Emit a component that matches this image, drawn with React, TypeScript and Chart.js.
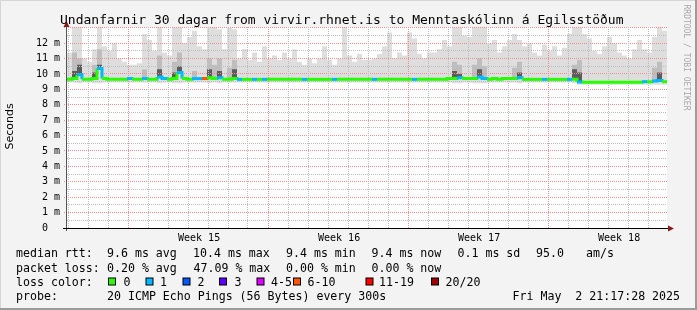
import React, { useEffect, useRef } from 'react';
import { Chart, registerables } from 'chart.js';
Chart.register(...registerables);

const W = 697;
const H = 310;
const HOURS = 720;
const STEP = 6;
const FIRST_DAY = 1.2;
const WEEK_LABEL_OFFSET = 85.3;

const smokeTop = [
  11.4, 13.2, 13.2, 11.0, 10.8, 11.6, 13.2, 11.8, 11.5, 12.0, 11.0, 10.8,
  10.6, 10.6, 10.7, 12.6, 12.2, 11.5, 13.2, 11.4, 11.2, 13.2, 13.2, 12.0,
  12.4, 12.8, 11.8, 11.6, 13.2, 13.2, 12.9, 11.6, 13.0, 12.9, 11.0, 11.6,
  10.9, 11.4, 10.8, 11.8, 11.0, 11.2, 10.9, 11.4, 11.0, 11.6, 10.8, 10.6,
  11.0, 10.7, 11.0, 11.8, 10.9, 10.6, 11.0, 13.1, 11.2, 10.8, 11.3, 10.9,
  10.9, 11.0, 11.3, 11.8, 12.7, 11.0, 11.4, 11.2, 12.7, 12.3, 11.3, 11.0,
  11.4, 11.4, 11.6, 12.2, 11.8, 13.2, 13.2, 12.5, 12.4, 13.2, 13.2, 13.2,
  12.0, 12.2, 11.4, 11.8, 12.2, 12.6, 12.2, 11.8, 12.0, 11.4, 11.2, 11.9,
  11.5, 11.8, 11.2, 11.7, 12.6, 13.2, 13.2, 12.6, 12.3, 11.5, 11.3, 11.8,
  12.4, 12.0, 11.4, 11.2, 11.0, 11.6, 12.2, 11.6, 11.4, 12.4, 13.2, 12.8,
];

const smokeLow = [
  9.45, 9.45, 9.4, 9.45, 9.45, 9.4, 9.4, 9.45, 9.45, 9.45, 9.45, 9.45,
  9.45, 9.45, 9.45, 9.45, 9.45, 9.45, 9.4, 9.45, 9.45, 9.4, 9.4, 9.45,
  9.45, 9.45, 9.45, 9.45, 9.4, 9.45, 9.4, 9.45, 9.45, 9.45, 9.45, 9.45,
  9.45, 9.45, 9.45, 9.45, 9.45, 9.45, 9.45, 9.45, 9.45, 9.45, 9.45, 9.45,
  9.45, 9.45, 9.45, 9.45, 9.45, 9.45, 9.45, 9.45, 9.45, 9.45, 9.45, 9.45,
  9.45, 9.45, 9.45, 9.45, 9.45, 9.45, 9.45, 9.45, 9.45, 9.45, 9.45, 9.45,
  9.45, 9.45, 9.45, 9.45, 9.45, 9.4, 9.4, 9.45, 9.45, 9.4, 9.4, 9.4,
  9.45, 9.45, 9.45, 9.45, 9.45, 9.45, 9.4, 9.45, 9.45, 9.45, 9.45, 9.45,
  9.45, 9.45, 9.45, 9.45, 9.45, 9.4, 9.3, 9.3, 9.3, 9.3, 9.3, 9.3,
  9.3, 9.3, 9.3, 9.3, 9.3, 9.3, 9.3, 9.3, 9.3, 9.3, 9.3, 9.3,
];

const smokeMid = [
  9.65, 11.4, 11.0, 9.65, 9.65, 10.6, 11.6, 9.7, 9.65, 9.65, 9.65, 9.65,
  9.7, 9.65, 9.65, 10.3, 9.65, 9.65, 11.2, 9.7, 9.65, 10.8, 11.4, 9.7,
  9.65, 10.2, 9.7, 9.7, 11.0, 10.6, 11.0, 9.65, 10.4, 10.9, 9.65, 9.65,
  9.65, 9.65, 9.65, 9.65, 9.65, 9.65, 9.65, 9.65, 9.65, 9.65, 9.65, 9.65,
  9.65, 9.65, 9.65, 9.65, 9.65, 9.65, 9.65, 9.65, 9.65, 9.65, 9.65, 9.65,
  9.65, 9.65, 9.65, 9.65, 9.65, 9.65, 9.65, 9.65, 9.65, 9.65, 9.65, 9.65,
  9.65, 9.65, 9.65, 9.65, 9.7, 10.8, 10.6, 9.7, 9.7, 10.6, 11.0, 10.5,
  9.65, 9.7, 9.65, 9.7, 9.7, 10.4, 10.8, 9.65, 9.65, 9.65, 9.65, 9.65,
  9.65, 9.65, 9.65, 9.65, 9.65, 10.6, 10.9, 9.47, 9.47, 9.47, 9.47, 9.47,
  9.47, 9.47, 9.47, 9.47, 9.47, 9.47, 9.47, 9.5, 9.5, 10.4, 10.8, 9.5,
];

const smokeDark = [
  9.65, 10.2, 10.6, 9.65, 9.65, 10.1, 10.6, 9.7, 9.65, 9.65, 9.65, 9.65,
  9.7, 9.65, 9.65, 9.7, 9.65, 9.65, 10.3, 9.7, 9.65, 10.1, 10.5, 9.7,
  9.65, 9.7, 9.7, 9.7, 10.3, 9.7, 10.2, 9.65, 9.65, 10.3, 9.65, 9.65,
  9.65, 9.65, 9.65, 9.65, 9.65, 9.65, 9.65, 9.65, 9.65, 9.65, 9.65, 9.65,
  9.65, 9.65, 9.65, 9.65, 9.65, 9.65, 9.65, 9.65, 9.65, 9.65, 9.65, 9.65,
  9.65, 9.65, 9.65, 9.65, 9.65, 9.65, 9.65, 9.65, 9.65, 9.65, 9.65, 9.65,
  9.65, 9.65, 9.65, 9.65, 9.7, 10.2, 10.0, 9.7, 9.7, 9.7, 10.3, 9.7,
  9.65, 9.7, 9.65, 9.7, 9.7, 9.7, 10.1, 9.65, 9.65, 9.65, 9.65, 9.65,
  9.65, 9.65, 9.65, 9.65, 9.65, 10.3, 10.1, 9.47, 9.47, 9.47, 9.47, 9.47,
  9.47, 9.47, 9.47, 9.47, 9.47, 9.47, 9.47, 9.5, 9.5, 9.55, 10.1, 9.5,
];

const medianRtt = [
  9.65, 9.7, 9.95, 9.65, 9.65, 9.7, 10.35, 9.7, 9.65, 9.65, 9.65, 9.65,
  9.7, 9.65, 9.65, 9.7, 9.65, 9.65, 9.8, 9.7, 9.65, 9.7, 10.1, 9.7,
  9.65, 9.7, 9.7, 9.7, 9.75, 9.7, 9.75, 9.65, 9.65, 9.7, 9.65, 9.65,
  9.65, 9.65, 9.65, 9.65, 9.65, 9.65, 9.65, 9.65, 9.65, 9.65, 9.65, 9.65,
  9.65, 9.65, 9.65, 9.65, 9.65, 9.65, 9.65, 9.65, 9.65, 9.65, 9.65, 9.65,
  9.65, 9.65, 9.65, 9.65, 9.65, 9.65, 9.65, 9.65, 9.65, 9.65, 9.65, 9.65,
  9.65, 9.65, 9.65, 9.65, 9.7, 9.7, 9.75, 9.7, 9.7, 9.7, 9.8, 9.7,
  9.65, 9.7, 9.65, 9.7, 9.7, 9.7, 9.75, 9.65, 9.65, 9.65, 9.65, 9.65,
  9.65, 9.65, 9.65, 9.65, 9.65, 9.65, 9.48, 9.47, 9.47, 9.47, 9.47, 9.47,
  9.47, 9.47, 9.47, 9.47, 9.47, 9.47, 9.47, 9.5, 9.5, 9.55, 9.58, 9.5,
];

const lossIndex = [
  0, 0, 1, 0, 0, 0, 1, 0, 0, 0, 0, 0,
  1, 0, 0, 1, 0, 0, 1, 1, 0, 0, 1, 0,
  0, 1, 1, 5, 0, 0, 1, 0, 0, 0, 1, 0,
  0, 1, 0, 1, 0, 0, 0, 0, 0, 0, 0, 1,
  0, 0, 0, 0, 0, 1, 0, 0, 0, 0, 0, 0,
  0, 1, 0, 0, 0, 0, 0, 0, 0, 1, 0, 0,
  0, 0, 0, 0, 0, 0, 1, 0, 0, 0, 1, 1,
  0, 0, 0, 0, 0, 0, 1, 0, 0, 0, 0, 1,
  0, 0, 0, 0, 1, 0, 1, 0, 0, 0, 0, 0,
  0, 0, 0, 0, 0, 0, 0, 1, 0, 1, 1, 0,
];

const lossColors = ['#26ff00', '#00b8ff', '#0059ff', '#5e00ff', '#dd00ff', '#ff5500', '#ff0000', '#a10000'];
const lossLabels = ['0', '1', '2', '3', '4-5', '6-10', '11-19', '20/20'];
const weekLabels = ['Week 15', 'Week 16', 'Week 17', 'Week 18'];
const yTickLabels = ['0  ', '1 m', '2 m', '3 m', '4 m', '5 m', '6 m', '7 m', '8 m', '9 m', '10 m', '11 m', '12 m'];

const TITLE = 'Undanfarnir 30 dagar from virvir.rhnet.is to Menntaskólinn á Egilsstöðum';
const rttLine = ['median rtt:', '9.6 ms avg', '10.4 ms max', '9.4 ms min', '9.4 ms now', '0.1 ms sd', '95.0', 'am/s'];
const lossLine = ['packet loss:', '0.20 % avg', '47.09 % max', '0.00 % min', '0.00 % now'];
const probeLine = ['probe:', '20 ICMP Echo Pings (56 Bytes) every 300s', 'Fri May  2 21:17:28 2025'];

const rttX = [16, 107, 193, 286, 371.5, 457.5, 536, 586];
const lossX = [16, 107, 193.5, 286, 371.5];
const probeX = [16, 107, 512.5];
const boxX = [108, 145.5, 182.5, 219, 256.5, 293, 365.5, 431];
const boxLabelX = [123.5, 160, 197.5, 234.5, 271, 307.5, 379, 445.5];

const MONO = '"DejaVu Sans Mono", monospace';
const GRID_GRAY = '#bdbdbd';
const GRID_RED = '#eb8f8f';

const dayTicks = Array.from({ length: 30 }, (_, k) => FIRST_DAY + k * 24);
const yGrid = Array.from({ length: 27 }, (_, k) => k / 2);

const pts = (arr: number[]) => [
  ...arr.map((y, i) => ({ x: i * STEP, y })),
  { x: HOURS, y: arr[arr.length - 1] },
];

const align = (p: number) => Math.round(p - 0.5) + 0.5;

const drawGrid = (chart: any) => {
  const { ctx, chartArea: a, scales } = chart;
  const xs = scales.x;
  const ys = scales.y;
  ctx.save();
  ctx.lineWidth = 1;
  ctx.setLineDash([1, 1]);
  ys.ticks.forEach((t: any) => {
    if (t.value === 0) return;
    const py = align(ys.getPixelForValue(t.value));
    ctx.strokeStyle = Number.isInteger(t.value) ? GRID_RED : GRID_GRAY;
    ctx.beginPath();
    ctx.moveTo(Number.isInteger(t.value) ? a.left - 3 : a.left, py);
    ctx.lineTo(a.right, py);
    ctx.stroke();
  });
  xs.ticks.forEach((t: any, k: number) => {
    const px = align(xs.getPixelForValue(t.value));
    ctx.strokeStyle = k % 7 === 3 ? GRID_RED : GRID_GRAY;
    ctx.beginPath();
    ctx.moveTo(px, a.top);
    ctx.lineTo(px, a.bottom);
    ctx.stroke();
  });
  ctx.restore();
};

const framePlugin = {
  id: 'frame',
  beforeDraw(chart: any) {
    const { ctx, chartArea: a } = chart;
    ctx.save();
    ctx.fillStyle = '#f3f3f3';
    ctx.fillRect(0, 0, W, H);
    ctx.fillStyle = '#d6d6d6';
    ctx.fillRect(0, 0, W, 1);
    ctx.fillRect(0, 0, 1, H);
    ctx.fillStyle = '#9c9c9c';
    ctx.fillRect(W - 2, 0, 2, H);
    ctx.fillRect(0, H - 2, W, 2);
    ctx.fillStyle = '#ffffff';
    ctx.fillRect(a.left, a.top, a.right - a.left, a.bottom - a.top);
    ctx.restore();
  },
  beforeDatasetDraw(chart: any, args: any) {
    if (args.index === 4) drawGrid(chart);
  },
  afterDraw(chart: any) {
    const { ctx, chartArea: a } = chart;
    const xs = chart.scales.x;
    ctx.save();
    // axes
    ctx.strokeStyle = '#555';
    ctx.lineWidth = 1;
    ctx.beginPath();
    ctx.moveTo(a.left - 0.5, a.top - 4);
    ctx.lineTo(a.left - 0.5, a.bottom + 3);
    ctx.stroke();
    ctx.strokeStyle = '#000';
    ctx.beginPath();
    ctx.moveTo(a.left - 4, a.bottom + 0.5);
    ctx.lineTo(a.right + 2, a.bottom + 0.5);
    ctx.stroke();
    // arrows
    ctx.fillStyle = '#8b1a1a';
    ctx.beginPath();
    ctx.moveTo(a.left - 3.5, a.top);
    ctx.lineTo(a.left + 2.5, a.top);
    ctx.lineTo(a.left - 0.5, a.top - 6);
    ctx.closePath();
    ctx.fill();
    ctx.beginPath();
    ctx.moveTo(a.right + 1, a.bottom - 2.5);
    ctx.lineTo(a.right + 1, a.bottom + 3.5);
    ctx.lineTo(a.right + 7, a.bottom + 0.5);
    ctx.closePath();
    ctx.fill();

    ctx.fillStyle = '#000';
    ctx.textBaseline = 'alphabetic';
    // title
    ctx.font = '13px ' + MONO;
    ctx.textAlign = 'left';
    ctx.fillText(TITLE, 60, 24);
    // week labels
    ctx.font = '10px ' + MONO;
    ctx.textAlign = 'center';
    weekLabels.forEach((lab, k) => {
      const h = FIRST_DAY + 3 * 24 + k * 168 + WEEK_LABEL_OFFSET;
      ctx.fillText(lab, xs.getPixelForValue(h), 241);
    });
    // legend
    ctx.font = '11.6px ' + MONO;
    ctx.textAlign = 'left';
    rttLine.forEach((t, k) => ctx.fillText(t, rttX[k], 257));
    lossLine.forEach((t, k) => ctx.fillText(t, lossX[k], 271.5));
    ctx.fillText('loss color:', 16, 286);
    lossLabels.forEach((t, k) => {
      ctx.fillStyle = '#000';
      ctx.fillRect(boxX[k], 277.5, 8, 8);
      ctx.fillStyle = lossColors[k];
      ctx.fillRect(boxX[k] + 1, 278.5, 6, 6);
      ctx.fillStyle = '#000';
      ctx.fillText(t, boxLabelX[k], 286);
    });
    probeLine.forEach((t, k) => ctx.fillText(t, probeX[k], 300));
    // y title
    ctx.save();
    ctx.translate(10.5, 126.5);
    ctx.rotate(-Math.PI / 2);
    ctx.font = '11px "DejaVu Sans", sans-serif';
    ctx.textAlign = 'center';
    ctx.textBaseline = 'middle';
    ctx.fillText('Seconds', 0, 0);
    ctx.restore();
    // rrdtool credit
    ctx.save();
    ctx.translate(686.5, 57.5);
    ctx.rotate(Math.PI / 2);
    ctx.font = '8px ' + MONO;
    ctx.fillStyle = '#a8a8a8';
    ctx.textAlign = 'center';
    ctx.textBaseline = 'middle';
    ctx.fillText('RRDTOOL / TOBI OETIKER', 0, 0);
    ctx.restore();
    ctx.restore();
  },
};

export default function App() {
  const ref = useRef<HTMLCanvasElement | null>(null);
  useEffect(() => {
    document.body.style.margin = '0';
    let chart: Chart | null = null;
    let cancelled = false;
    const fontsReady = (document as any).fonts
      ? Promise.all([
          (document as any).fonts.load('13px "DejaVu Sans Mono"'),
          (document as any).fonts.load('11px "DejaVu Sans"'),
        ]).catch(() => null)
      : Promise.resolve(null);
    fontsReady.then(() => {
      if (cancelled || !ref.current) return;
      chart = new Chart(ref.current, {
        type: 'line',
        data: {
          datasets: [
            { label: 'low', data: pts(smokeLow), borderWidth: 0, borderColor: 'rgba(0,0,0,0)', pointRadius: 0, fill: false, stepped: true, order: 5 },
            { label: 'top', data: pts(smokeTop), borderWidth: 0, borderColor: 'rgba(0,0,0,0)', backgroundColor: '#dedede', pointRadius: 0, fill: 0, stepped: true, order: 4 },
            { label: 'mid', data: pts(smokeMid), borderWidth: 0, borderColor: 'rgba(0,0,0,0)', backgroundColor: '#bebebe', pointRadius: 0, fill: 4, stepped: true, order: 3 },
            { label: 'dark', data: pts(smokeDark), borderWidth: 0, borderColor: 'rgba(0,0,0,0)', backgroundColor: '#5c5c5c', pointRadius: 0, fill: 4, stepped: true, order: 2 },
            {
              label: 'median', data: pts(medianRtt), borderWidth: 3, borderColor: lossColors[0], pointRadius: 0, fill: false, stepped: true, order: 1,
              segment: { borderColor: (c: any) => lossColors[lossIndex[c.p0DataIndex] ?? 0] },
            },
          ] as any,
        },
        options: {
          responsive: false,
          animation: false,
          devicePixelRatio: 1,
          layout: { padding: { left: 0, top: 27, right: 30, bottom: 0 } },
          plugins: { legend: { display: false }, tooltip: { enabled: false }, title: { display: false } },
          elements: { point: { radius: 0 }, line: { tension: 0 } },
          scales: {
            x: {
              type: 'linear', min: 0, max: HOURS,
              afterBuildTicks: (s: any) => { s.ticks = dayTicks.map((v) => ({ value: v })); },
              afterFit: (s: any) => { s.height = H - 228; },
              ticks: { display: false },
              grid: { display: false },
              border: { display: false },
            },
            y: {
              type: 'linear', min: 0, max: 13.05,
              afterBuildTicks: (s: any) => { s.ticks = yGrid.map((v) => ({ value: v })); },
              afterFit: (s: any) => { s.width = 67; },
              ticks: {
                autoSkip: false, padding: 7, color: '#000',
                font: { family: 'DejaVu Sans Mono', size: 10 },
                callback: (v: any) => (Number.isInteger(v) && v < yTickLabels.length ? yTickLabels[v] : ''),
              },
              grid: { display: false, drawTicks: false },
              border: { display: false },
            },
          },
        } as any,
        plugins: [framePlugin],
      });
    });
    return () => {
      cancelled = true;
      if (chart) chart.destroy();
    };
  }, []);
  return <canvas ref={ref} width={W} height={H} style={{ display: 'block' }} />;
}
